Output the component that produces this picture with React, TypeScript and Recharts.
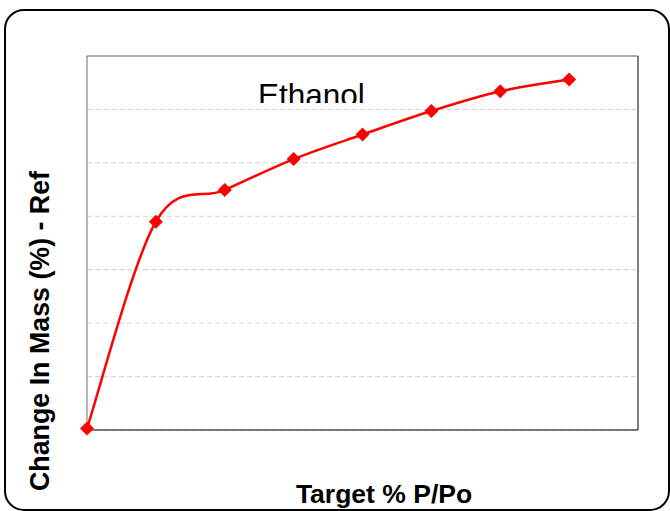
import React from 'react';
import { LineChart, Line, XAxis, YAxis, CartesianGrid } from 'recharts';

// Target relative pressure (% P/Po) and measured mass change
const targetPressure = [0, 10, 20, 30, 40, 50, 60, 70];
const massChange = [0.03, 3.9, 4.49, 5.07, 5.53, 5.97, 6.34, 6.56];
const xTicks = [0, 10, 20, 30, 40, 50, 60, 70, 80];
const yTicks = [0, 1, 2, 3, 4, 5, 6, 7];

const chartTitle = 'Ethanol';
const xTitle = 'Target % P/Po';
const yTitle = 'Change In Mass (%) - Ref';

const data = targetPressure.map((p, i) => ({ p, m: massChange[i] }));

// Smoothed line through the points using Catmull-Rom style Bezier segments
const smoothCurve = (context: any) => {
  let pts: [number, number][] = [];
  return {
    areaStart() {},
    areaEnd() {},
    lineStart() {
      pts = [];
    },
    point(x: number, y: number) {
      pts.push([+x, +y]);
    },
    lineEnd() {
      if (!pts.length) return;
      context.moveTo(pts[0][0], pts[0][1]);
      for (let i = 0; i < pts.length - 1; i++) {
        const p0 = pts[i - 1] || pts[i];
        const p1 = pts[i];
        const p2 = pts[i + 1];
        const p3 = pts[i + 2] || p2;
        context.bezierCurveTo(
          p1[0] + (p2[0] - p0[0]) / 6,
          p1[1] + (p2[1] - p0[1]) / 6,
          p2[0] - (p3[0] - p1[0]) / 6,
          p2[1] - (p3[1] - p1[1]) / 6,
          p2[0],
          p2[1]
        );
      }
    },
  };
};

const Diamond = (props: any) => {
  const { cx, cy } = props;
  if (cx == null || cy == null) return null;
  const r = 7;
  return (
    <polygon
      points={`${cx},${cy - r} ${cx + r},${cy} ${cx},${cy + r} ${cx - r},${cy}`}
      fill="#FF0000"
    />
  );
};

const NoTick = () => <g />;

const labelFont = '"Liberation Sans", Arial, sans-serif';

export default function App() {
  return (
    <div
      style={{
        position: 'absolute',
        left: 0,
        top: 0,
        width: 670,
        height: 511,
        background: '#fff',
        overflow: 'hidden',
      }}
    >
      <LineChart
        width={670}
        height={511}
        data={data}
        margin={{ top: 55, right: 31, bottom: 80, left: 86 }}
      >
        <CartesianGrid
          vertical={false}
          stroke="#cfcfcf"
          strokeDasharray="5 3"
        />
        <XAxis
          type="number"
          dataKey="p"
          domain={[0, 80]}
          ticks={xTicks}
          interval={0}
          tick={<NoTick />}
          tickLine={false}
          height={1}
          axisLine={{ stroke: '#000', strokeWidth: 1 }}
          label={{
            content: () => (
              <text
                x={384}
                y={503}
                textAnchor="middle"
                fontFamily={labelFont}
                fontWeight="bold"
                fontSize={26.5}
                fill="#000"
              >
                {xTitle}
              </text>
            ),
          }}
        />
        <XAxis
          xAxisId="top"
          orientation="top"
          type="number"
          domain={[0, 80]}
          ticks={xTicks}
          interval={0}
          tick={<NoTick />}
          tickLine={false}
          height={1}
          axisLine={{ stroke: '#6e6e6e', strokeWidth: 1 }}
        />
        <YAxis
          type="number"
          domain={[0, 7]}
          ticks={yTicks}
          interval={0}
          tick={<NoTick />}
          tickLine={false}
          width={1}
          axisLine={{ stroke: '#6e6e6e', strokeWidth: 1 }}
          label={{
            content: () => (
              <text
                x={49}
                y={331}
                transform="rotate(-90, 49, 331)"
                textAnchor="middle"
                fontFamily={labelFont}
                fontWeight="bold"
                fontSize={26.8}
                fill="#000"
              >
                {yTitle}
              </text>
            ),
          }}
        />
        <YAxis
          yAxisId="right"
          orientation="right"
          type="number"
          domain={[0, 7]}
          ticks={yTicks}
          interval={0}
          tick={<NoTick />}
          tickLine={false}
          width={1}
          axisLine={{ stroke: '#000', strokeWidth: 1 }}
        />
        <Line
          dataKey="m"
          type={smoothCurve as any}
          stroke="#FF0000"
          strokeWidth={2.5}
          dot={<Diamond />}
          activeDot={false}
          isAnimationActive={false}
        />
      </LineChart>

      {/* chart title, cut off along its lower edge */}
      <div
        style={{
          position: 'absolute',
          left: 0,
          top: 0,
          width: 670,
          height: 103,
          overflow: 'hidden',
          pointerEvents: 'none',
        }}
      >
        <span
          style={{
            position: 'absolute',
            left: 258,
            top: 80,
            fontFamily: labelFont,
            fontSize: 31.5,
            lineHeight: 1,
            color: '#000',
            whiteSpace: 'nowrap',
          }}
        >
          {chartTitle}
        </span>
      </div>

      {/* rounded outer frame */}
      <div
        style={{
          position: 'absolute',
          left: 4,
          top: 9,
          width: 666,
          height: 502,
          boxSizing: 'border-box',
          border: '2px solid #000',
          borderRadius: 20,
          pointerEvents: 'none',
        }}
      />
    </div>
  );
}
